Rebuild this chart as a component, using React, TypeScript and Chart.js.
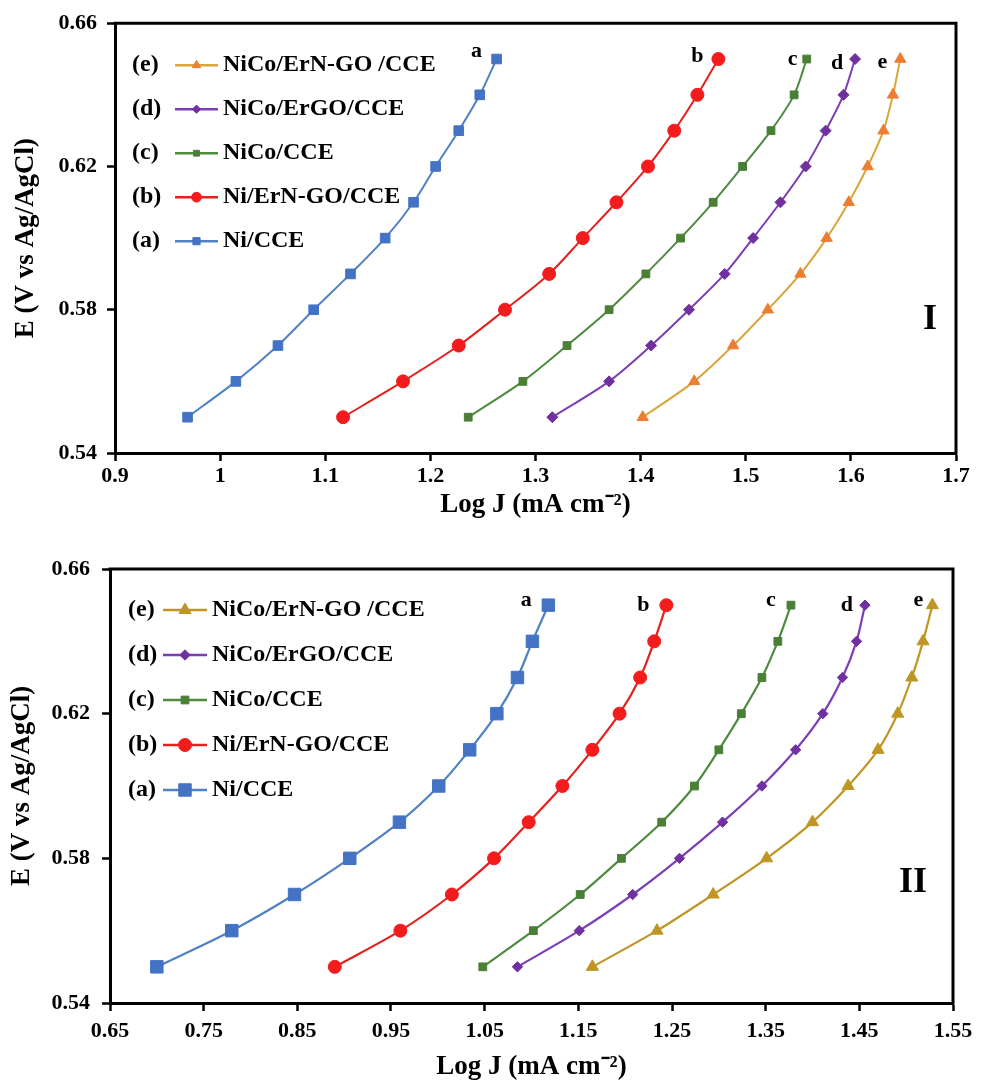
import React, { useEffect, useRef } from 'react';
import { Chart, registerables } from 'chart.js';
import { drawPoint } from 'chart.js/helpers';

Chart.register(...registerables);

// Electrode potential (V vs Ag/AgCl) shared by every curve
const potentials = [0.55, 0.56, 0.57, 0.58, 0.59, 0.6, 0.61, 0.62, 0.63, 0.64, 0.65];

// Panel I – log J (mA cm-2)
const logJ_I_a = [0.969, 1.015, 1.055, 1.089, 1.124, 1.157, 1.184, 1.205, 1.227, 1.247, 1.263];
const logJ_I_b = [1.117, 1.174, 1.227, 1.271, 1.313, 1.345, 1.377, 1.407, 1.432, 1.454, 1.474];
const logJ_I_c = [1.236, 1.288, 1.33, 1.37, 1.405, 1.438, 1.469, 1.497, 1.524, 1.546, 1.558];
const logJ_I_d = [1.316, 1.37, 1.41, 1.446, 1.48, 1.507, 1.533, 1.557, 1.576, 1.593, 1.604];
const logJ_I_e = [1.402, 1.451, 1.488, 1.521, 1.552, 1.577, 1.598, 1.616, 1.631, 1.64, 1.647];

// Panel II – log J (mA cm-2)
const logJ_II_a = [0.7, 0.78, 0.847, 0.906, 0.959, 1.001, 1.034, 1.063, 1.085, 1.101, 1.118];
const logJ_II_b = [0.89, 0.96, 1.015, 1.06, 1.097, 1.133, 1.165, 1.194, 1.216, 1.231, 1.244];
const logJ_II_c = [1.048, 1.102, 1.152, 1.196, 1.239, 1.274, 1.3, 1.324, 1.346, 1.363, 1.377];
const logJ_II_d = [1.085, 1.151, 1.208, 1.258, 1.304, 1.346, 1.382, 1.411, 1.432, 1.447, 1.456];
const logJ_II_e = [1.165, 1.234, 1.294, 1.351, 1.4, 1.438, 1.47, 1.491, 1.506, 1.518, 1.528];

const seriesLabels = ['Ni/CCE', 'Ni/ErN-GO/CCE', 'NiCo/CCE', 'NiCo/ErGO/CCE', 'NiCo/ErN-GO /CCE'];
const seriesTags = ['a', 'b', 'c', 'd', 'e'];

const yTicks = [0.54, 0.58, 0.62, 0.66];
const yTickLabels = ['0.54', '0.58', '0.62', '0.66'];
const xTicksI = [0.9, 1.0, 1.1, 1.2, 1.3, 1.4, 1.5, 1.6, 1.7];
const xTickLabelsI = ['0.9', '1', '1.1', '1.2', '1.3', '1.4', '1.5', '1.6', '1.7'];
const xTicksII = [0.65, 0.75, 0.85, 0.95, 1.05, 1.15, 1.25, 1.35, 1.45, 1.55];
const xTickLabelsII = ['0.65', '0.75', '0.85', '0.95', '1.05', '1.15', '1.25', '1.35', '1.45', '1.55'];

const SERIF = "'Liberation Serif', 'Times New Roman', serif";
const pointStyles = ['rect', 'circle', 'rect', 'rectRot', 'triangle'];

type Panel = {
  width: number;
  height: number;
  xs: number[][];
  xTicks: number[];
  xLabels: string[];
  yAxisWidth: number;
  xAxisHeight: number;
  padTop: number;
  padRight: number;
  yTitlePad: number;
  xTitlePadBottom: number;
  xTickPad: number;
  yTickPad: number;
  lineColors: string[];
  pointColors: string[];
  pointRadius: number[];
  lineWidth: number;
  legend: {
    prefixX: number;
    lineStart: number;
    lineEnd: number;
    textX: number;
    firstRow: number;
    rowGap: number;
    markerScale: number;
  };
  tagOffsets: number[][];
  mark: string;
  markPos: number[];
};

const panelI: Panel = {
  width: 987,
  height: 540,
  xs: [logJ_I_a, logJ_I_b, logJ_I_c, logJ_I_d, logJ_I_e],
  xTicks: xTicksI,
  xLabels: xTickLabelsI,
  yAxisWidth: 115,
  xAxisHeight: 87,
  padTop: 22,
  padRight: 31,
  yTitlePad: 10,
  xTitlePadBottom: 19,
  xTickPad: 2,
  yTickPad: 10,
  lineColors: ['#4F81C4', '#E3211E', '#4E8B3F', '#7A3EB6', '#D9A53C'],
  pointColors: ['#4472C4', '#F21C1C', '#4A7F36', '#7030A0', '#ED7D31'],
  pointRadius: [6.8, 6.5, 5.5, 5.5, 6.5],
  lineWidth: 2,
  legend: { prefixX: 17, lineStart: 60, lineEnd: 103, textX: 108, firstRow: 42, rowGap: 44, markerScale: 0.75 },
  tagOffsets: [[-20, -8], [-21, -3], [-14, 0], [-18, 4], [-18, 3]],
  mark: 'I',
  markPos: [-26, -133],
};

const panelII: Panel = {
  width: 987,
  height: 543,
  xs: [logJ_II_a, logJ_II_b, logJ_II_c, logJ_II_d, logJ_II_e],
  xTicks: xTicksII,
  xLabels: xTickLabelsII,
  yAxisWidth: 110,
  xAxisHeight: 80,
  padTop: 29,
  padRight: 34,
  yTitlePad: 6,
  xTitlePadBottom: 0,
  xTickPad: 7,
  yTickPad: 12,
  lineColors: ['#4F81C4', '#E3211E', '#4E8B3F', '#7A3EB6', '#BF9623'],
  pointColors: ['#4472C4', '#F21C1C', '#4A7F36', '#7030A0', '#BF9623'],
  pointRadius: [8.8, 6.5, 5.5, 5.2, 7],
  lineWidth: 2.2,
  legend: { prefixX: 18, lineStart: 53, lineEnd: 97, textX: 102, firstRow: 41, rowGap: 45, markerScale: 1 },
  tagOffsets: [[-22, -5], [-23, 0], [-20, -5], [-18, 0], [-14, -5]],
  mark: 'II',
  markPos: [-40, -120],
};

// Frame on the top and right edges of the plot area
const framePlugin = {
  id: 'frame',
  afterDatasetsDraw(chart: any) {
    const { ctx, chartArea: a } = chart;
    ctx.save();
    ctx.strokeStyle = '#000';
    ctx.lineWidth = 3;
    ctx.beginPath();
    ctx.moveTo(a.left - 1.5, a.top);
    ctx.lineTo(a.right, a.top);
    ctx.lineTo(a.right, a.bottom + 1.5);
    ctx.stroke();
    ctx.restore();
  },
};

// Letter tags next to the last point of each curve
const tagPlugin = {
  id: 'curveTags',
  afterDatasetsDraw(chart: any) {
    const { ctx } = chart;
    ctx.save();
    ctx.font = `bold 22px ${SERIF}`;
    ctx.fillStyle = '#000';
    ctx.textAlign = 'center';
    ctx.textBaseline = 'middle';
    chart.data.datasets.forEach((ds: any, i: number) => {
      const pts = chart.getDatasetMeta(i).data;
      const last = pts[pts.length - 1];
      const [dx, dy] = ds.tagOffset;
      ctx.fillText(ds.tag, last.x + dx, last.y + dy);
    });
    ctx.restore();
  },
};

// Inset key: "(x) —marker— label", listed from e down to a
const keyPlugin = {
  id: 'seriesKey',
  afterDraw(chart: any, _args: any, opts: any) {
    const { ctx, chartArea: a } = chart;
    const ds = chart.data.datasets.slice().reverse();
    ctx.save();
    ctx.font = `bold 24px ${SERIF}`;
    ctx.textBaseline = 'middle';
    ctx.textAlign = 'left';
    ds.forEach((d: any, r: number) => {
      const y = a.top + opts.firstRow + r * opts.rowGap;
      ctx.fillStyle = '#000';
      ctx.fillText(`(${d.tag})`, a.left + opts.prefixX, y);
      ctx.strokeStyle = d.borderColor;
      ctx.lineWidth = 2.5;
      ctx.beginPath();
      ctx.moveTo(a.left + opts.lineStart, y);
      ctx.lineTo(a.left + opts.lineEnd, y);
      ctx.stroke();
      ctx.fillStyle = d.pointBackgroundColor;
      ctx.strokeStyle = d.pointBorderColor;
      ctx.lineWidth = 1;
      drawPoint(
        ctx,
        { pointStyle: d.pointStyle, rotation: 0, radius: d.pointRadius * opts.markerScale, borderWidth: 1 } as any,
        a.left + (opts.lineStart + opts.lineEnd) / 2,
        y
      );
      ctx.fillStyle = '#000';
      ctx.fillText(d.label, a.left + opts.textX, y);
    });
    ctx.restore();
  },
};

// Panel numeral in the lower right of the plot area
const markPlugin = {
  id: 'panelMark',
  afterDraw(chart: any, _args: any, opts: any) {
    const { ctx, chartArea: a } = chart;
    ctx.save();
    ctx.font = `bold 36px ${SERIF}`;
    ctx.fillStyle = '#000';
    ctx.textAlign = 'center';
    ctx.textBaseline = 'middle';
    ctx.fillText(opts.text, a.right + opts.dx, a.bottom + opts.dy);
    ctx.restore();
  },
};

function makeConfig(p: Panel): any {
  const datasets = p.xs.map((xs, i) => ({
    label: seriesLabels[i],
    tag: seriesTags[i],
    tagOffset: p.tagOffsets[i],
    data: xs.map((x, k) => ({ x, y: potentials[k] })),
    showLine: true,
    borderColor: p.lineColors[i],
    borderWidth: p.lineWidth,
    backgroundColor: p.pointColors[i],
    pointBackgroundColor: p.pointColors[i],
    pointBorderColor: p.pointColors[i],
    pointBorderWidth: 1,
    pointStyle: pointStyles[i],
    pointRadius: p.pointRadius[i],
    tension: 0.3,
  }));
  const tickFont = { family: SERIF, size: 22, weight: 'bold' as const };
  const titleFont = { family: SERIF, size: 27, weight: 'bold' as const };
  const grid = {
    display: true,
    drawOnChartArea: false,
    drawTicks: true,
    tickLength: 8,
    tickWidth: 2.5,
    tickColor: '#000',
  };
  return {
    type: 'scatter',
    data: { datasets },
    options: {
      responsive: false,
      animation: false,
      events: [],
      layout: { padding: { top: p.padTop, right: p.padRight, left: 0, bottom: 0 } },
      plugins: {
        legend: { display: false },
        tooltip: { enabled: false },
        seriesKey: p.legend,
        panelMark: { text: p.mark, dx: p.markPos[0], dy: p.markPos[1] },
      },
      scales: {
        x: {
          type: 'linear',
          min: p.xTicks[0],
          max: p.xTicks[p.xTicks.length - 1],
          afterBuildTicks: (s: any) => {
            s.ticks = p.xTicks.map((v) => ({ value: v }));
          },
          afterFit: (s: any) => {
            s.height = p.xAxisHeight;
          },
          ticks: {
            callback: (_v: any, i: number) => p.xLabels[i],
            font: tickFont,
            color: '#000',
            padding: p.xTickPad,
            maxRotation: 0,
            autoSkip: false,
          },
          grid,
          border: { display: true, color: '#000', width: 3 },
          title: {
            display: true,
            text: 'Log J (mA cm⁻²)',
            font: titleFont,
            color: '#000',
            padding: { top: 0, bottom: p.xTitlePadBottom },
          },
        },
        y: {
          type: 'linear',
          min: yTicks[0],
          max: yTicks[yTicks.length - 1],
          afterBuildTicks: (s: any) => {
            s.ticks = yTicks.map((v) => ({ value: v }));
          },
          afterFit: (s: any) => {
            s.width = p.yAxisWidth;
          },
          ticks: {
            callback: (_v: any, i: number) => yTickLabels[i],
            font: tickFont,
            color: '#000',
            padding: p.yTickPad,
            autoSkip: false,
          },
          grid,
          border: { display: true, color: '#000', width: 3 },
          title: {
            display: true,
            text: 'E (V vs Ag/AgCl)',
            font: titleFont,
            color: '#000',
            padding: { top: p.yTitlePad, bottom: 0 },
          },
        },
      },
    },
    plugins: [framePlugin, tagPlugin, keyPlugin, markPlugin],
  };
}

function PanelChart({ panel }: { panel: Panel }) {
  const ref = useRef<HTMLCanvasElement | null>(null);
  useEffect(() => {
    if (!ref.current) return;
    const chart = new Chart(ref.current, makeConfig(panel));
    return () => chart.destroy();
  }, [panel]);
  return <canvas ref={ref} width={panel.width} height={panel.height} style={{ display: 'block' }} />;
}

export default function App() {
  return (
    <div style={{ position: 'absolute', left: 0, top: 0, width: 987, height: 1083, background: '#fff' }}>
      <PanelChart panel={panelI} />
      <PanelChart panel={panelII} />
    </div>
  );
}
